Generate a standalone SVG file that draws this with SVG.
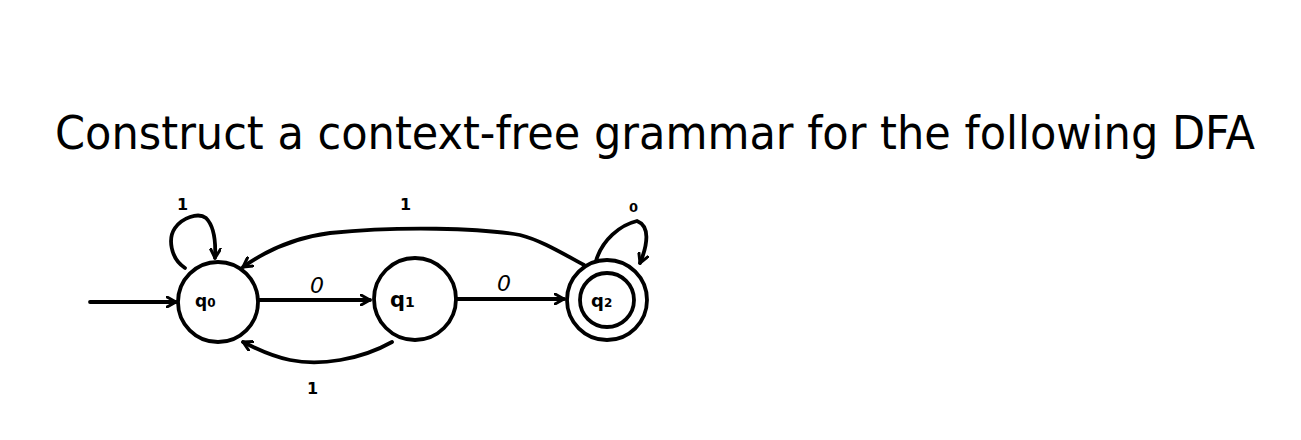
<svg xmlns="http://www.w3.org/2000/svg" width="1301" height="440" viewBox="0 0 1301 440">
<style>
.st{fill:none;stroke:#000;stroke-width:3.8;stroke-linecap:round;stroke-linejoin:round}
.hw{font-family:"DejaVu Sans",sans-serif;font-weight:bold;fill:#000}
.title{font-family:"DejaVu Sans Condensed","DejaVu Sans",sans-serif;font-size:46px;fill:#000}
</style>
<defs>
<marker id="ah" viewBox="0 0 12 12" refX="10" refY="6" markerWidth="12" markerHeight="12" markerUnits="userSpaceOnUse" orient="auto">
<path d="M1,1 L10,6 L1,11" fill="none" stroke="#000" stroke-width="3" stroke-linecap="round" stroke-linejoin="round"/>
</marker>
</defs>
<rect width="1301" height="440" fill="#fff"/>
<text class="title" x="55" y="149" textLength="1200" lengthAdjust="spacingAndGlyphs">Construct a context-free grammar for the following DFA</text>
<g id="q0"><circle class="st" cx="218" cy="302" r="40"/><text class="hw" x="195" y="307" font-size="17">q<tspan font-size="12">0</tspan></text></g>
<g id="q1"><circle class="st" cx="415" cy="299" r="41"/><text class="hw" x="390" y="307" font-size="21">q<tspan font-size="14">1</tspan></text></g>
<g id="q2"><circle class="st" cx="607" cy="300" r="40"/><circle class="st" cx="607" cy="300" r="27"/><text class="hw" x="591" y="307" font-size="18">q<tspan font-size="12">2</tspan></text></g>
<g id="connectors">
<path class="st" d="M90,302 L176,302" marker-end="url(#ah)"/>
<path class="st" d="M259,300 L370,300" marker-end="url(#ah)"/>
<path class="st" d="M457,299 L564,299" marker-end="url(#ah)"/>
<path class="st" d="M584,265 C560,252 540,240 520,235 C480,228 400,226 330,233 C290,238 260,255 243,267" marker-end="url(#ah)"/>
<path class="st" d="M392,342 C360,360 320,366 290,360 C270,356 255,348 243,342" marker-end="url(#ah)"/>
<path class="st" d="M185,268 C170,258 168,238 175,228 C182,218 198,212 206,218 C214,226 216,240 215,258" marker-end="url(#ah)"/>
<path class="st" d="M596,261 C602,240 620,225 637,221 C650,226 648,244 640,263" marker-end="url(#ah)"/>
</g>
<g id="labels" class="hw">
<text x="177" y="210" font-size="16">1</text>
<text x="400" y="210" font-size="16">1</text>
<text x="629" y="212" font-size="13">0</text>
<text x="310" y="293" font-size="22" font-style="italic" font-weight="normal">0</text>
<text x="497" y="291" font-size="22" font-style="italic" font-weight="normal">0</text>
<text x="307" y="394" font-size="16">1</text>
</g>
</svg>
